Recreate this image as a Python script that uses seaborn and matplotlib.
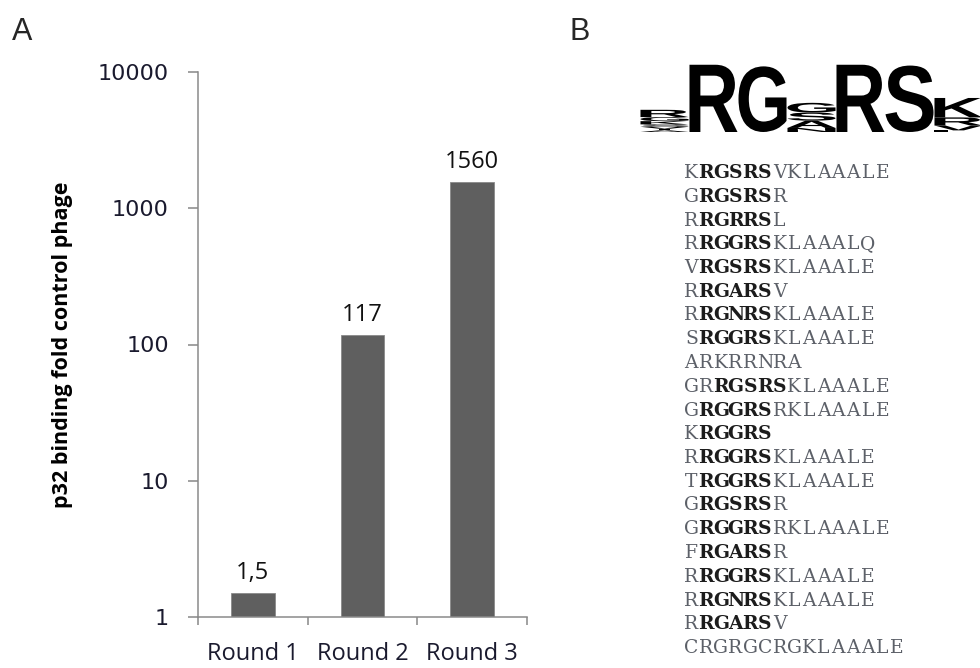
import numpy as np
import pandas as pd
import matplotlib
matplotlib.use("Agg")
import matplotlib.pyplot as plt
import seaborn as sns
from matplotlib.textpath import TextPath
from matplotlib.font_manager import FontProperties
from matplotlib.patches import PathPatch
from matplotlib.transforms import Affine2D

# =======================
# data
# =======================
rounds = ["Round 1", "Round 2", "Round 3"]
fold_binding = [1.5, 117, 1560]
fold_labels = ["1,5", "117", "1560"]

# sequence logo (panel B): letters per column, bottom -> top, height in bits
logo_letters = [
    ["A", "T", "V", "S", "K", "G", "R"],
    ["R"],
    ["G"],
    ["N", "A", "S", "G"],
    ["R"],
    ["S"],
    ["L", "V", "R", "K"],
]
logo_bits = [
    [0.10, 0.10, 0.12, 0.15, 0.20, 0.25, 0.45],
    [4.15],
    [4.05],
    [0.25, 0.45, 0.50, 0.60],
    [4.15],
    [4.10],
    [0.10, 0.30, 0.50, 1.20],
]

peptides = [
    "KRGSRSVKLAAALE", "GRGSRSR", "RRGRRSL", "RRGGRSKLAAALQ", "VRGSRSKLAAALE",
    "RRGARSV", "RRGNRSKLAAALE", "SRGGRSKLAAALE", "ARKRRNRA", "GRRGSRSKLAAALE",
    "GRGGRSRKLAAALE", "KRGGRS", "RRGGRSKLAAALE", "TRGGRSKLAAALE", "GRGSRSR",
    "GRGGRSRKLAAALE", "FRGARSR", "RRGGRSKLAAALE", "RRGNRSKLAAALE", "RRGARSV",
    "CRGRGCRGKLAAALE",
]
# index where the bold RGxRS motif starts (-1 = no motif)
motif_start = [1, 1, 1, 1, 1, 1, 1, 1, -1, 2, 1, 1, 1, 1, 1, 1, 1, 1, 1, 1, -1]
MOTIF_LEN = 5

# =======================
# style
# =======================
sns.set_style("white")
plt.rcParams.update({
    "font.family": ["DejaVu Sans"],
    "axes.unicode_minus": False,
})

W, H = 980, 668
fig = plt.figure(figsize=(W / 100, H / 100), dpi=100)


def px_axes(x0, y0, x1, y1):
    """axes from pixel box (top-left origin)"""
    return fig.add_axes([x0 / W, 1 - y1 / H, (x1 - x0) / W, (y1 - y0) / H])


# --- panel A: bar chart on log scale ---
ax = px_axes(198, 72, 527, 617)
df = pd.DataFrame({"round": rounds, "fold": fold_binding})
ax.set_yscale("log")
sns.barplot(data=df, x="round", y="fold", color="#5f5f5f", saturation=1,
            width=0.4, edgecolor="#8a8a8a", linewidth=0.6, ax=ax)
ax.set_ylim(1, 10000)
ax.set_xlim(-0.5, len(rounds) - 0.5)

ax.bar_label(ax.containers[0], labels=fold_labels, padding=6,
             fontsize=17, family="Open Sans", color="#111111")

ax.set_yticks([1, 10, 100, 1000, 10000])
ax.set_yticklabels(["1", "10", "100", "1000", "10000"])
ax.yaxis.set_minor_locator(plt.NullLocator())
ax.tick_params(axis="y", which="major", length=7, width=1.1, color="#888888",
               pad=14, labelsize=16, labelcolor="#1a1a2e", left=True)

# category ticks sit between the bars, labels under the bars
ax.set_xticks(np.arange(len(rounds) + 1) - 0.5)
ax.set_xticklabels([""] * (len(rounds) + 1))
ax.set_xticks(np.arange(len(rounds)), minor=True)
ax.set_xticklabels(rounds, minor=True, fontsize=17, family="Open Sans",
                   color="#1a1a2e")
ax.tick_params(axis="x", which="major", length=6, width=1.1, color="#888888",
               bottom=True)
ax.tick_params(axis="x", which="minor", length=0, pad=18)

ax.set_xlabel("")
ax.set_ylabel("p32 binding fold control phage", fontsize=15.5,
              fontweight="bold", family="Open Sans", color="black")
ax.yaxis.set_label_coords(-0.38, 0.5)
sns.despine(ax=ax)
for side in ["left", "bottom"]:
    ax.spines[side].set_color("#8a8a8a")
    ax.spines[side].set_linewidth(1.1)

fig.text(12 / W, 1 - 40 / H, "A", fontsize=22, family="Liberation Sans")
fig.text(569 / W, 1 - 40 / H, "B", fontsize=22, family="Liberation Sans")

# --- panel B: sequence logo ---
col_w = 49
lax = px_axes(640, 62, 980, 132)
lax.set_xlim(-0.5, -0.5 + (980 - 640) / col_w)
lax.set_ylim(0, 4.32)
lax.axis("off")
logo_font = FontProperties(family="Liberation Sans", weight="bold")
for i, (letters, bits) in enumerate(zip(logo_letters, logo_bits)):
    base = 0.0
    for letter, h in zip(letters, bits):
        tp = TextPath((0, 0), letter, size=1, prop=logo_font)
        bb = tp.get_extents()
        tr = (Affine2D().translate(-bb.x0, -bb.y0)
              .scale(0.98 / bb.width, h / bb.height)
              .translate(i - 0.49, base))
        lax.add_patch(PathPatch(tr.transform_path(tp), color="black", lw=0))
        base += h

# --- panel B: peptide list ---
char_w, row_h = 14.7, 23.75
n_rows = len(peptides)
sax = px_axes(684, 173 - row_h / 2, 684 + 15 * char_w, 173 + (n_rows - 0.5) * row_h)
sax.set_xlim(-0.5, 14.5)
sax.set_ylim(n_rows - 0.5, -0.5)
sax.axis("off")
for r, (seq, st) in enumerate(zip(peptides, motif_start)):
    for c, ch in enumerate(seq):
        bold = st >= 0 and st <= c < st + MOTIF_LEN
        sax.text(c, r, ch, ha="center", va="center", fontsize=13.5,
                 family="DejaVu Serif",
                 fontweight="bold" if bold else "normal",
                 color="#1c1c1c" if bold else "#5c6068")

fig.savefig("out.png", dpi=100)
